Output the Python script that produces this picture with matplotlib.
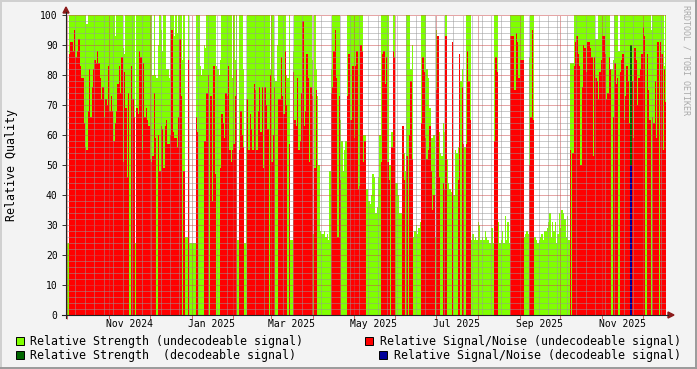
import datetime as dt
import numpy as np
import matplotlib
matplotlib.use("Agg")
import matplotlib.pyplot as plt
import matplotlib.dates as mdates
from matplotlib.lines import Line2D
from matplotlib.patches import Rectangle, Polygon

W, H = 697, 369

# one value per day, starting at first_day
first_day = dt.date(2024, 9, 30)
n_days_shown = 444.4

strength_undec = [
    # 2024-09-30 ..
    82, 24, 100, 100, 100, 100, 100, 100, 100, 100, 100, 100, 100, 100, 100, 97, 100, 100, 100, 100,
    100, 100, 100, 100, 100, 100, 100, 100, 100, 100, 100, 100, 100, 100, 100, 100, 93, 100, 100, 100,
    100, 100, 89, 87, 100, 100, 100, 100, 100, 100, 100, 24, 100, 100, 100, 100, 100, 100, 100, 100,
    100, 100, 100, 100, 80, 100, 80, 79, 90, 100, 95, 88, 100, 100,
    # 2024-12-13 ..
    82, 82, 79, 100, 100, 100, 93, 100, 94, 100, 100, 100, 85, 100, 26, 26, 100, 24, 24, 24,
    24, 24, 100, 100, 100, 83, 80, 82, 90, 89, 100, 100, 100, 100, 100, 100, 100, 83, 82, 80,
    85, 100, 100, 100, 100, 100, 100, 100, 100, 79, 100, 85, 100, 25, 100, 100, 100, 82, 24, 72,
    100, 100, 100, 100, 100, 100, 100, 100, 100, 100, 100, 100, 100,
    # 2025-02-24 ..
    100, 100, 100, 100, 82, 100, 100, 79, 78, 90, 100, 100, 100, 100, 100, 100, 80, 79, 100, 25,
    25, 88, 100, 100, 100, 100, 100, 100, 100, 100, 100, 100, 100, 100, 100, 85, 27, 100, 82, 73,
    50, 28, 27, 27, 28, 26, 27, 25, 48, 82, 100, 100, 100, 100, 100, 100, 65, 58, 48, 55,
    58, 100, 100, 100, 100, 100, 100, 100, 100, 100, 100, 100, 100, 60, 60,
    # 2025-05-10 ..
    42, 42, 38, 37, 40, 47, 46, 34, 36, 46, 60, 100, 100, 100, 100, 100, 100, 50, 50, 61,
    100, 100, 44, 44, 40, 34, 34, 40, 54, 48, 100, 100, 100, 82, 90, 26, 28, 30, 27, 29,
    31, 100, 100, 100, 100, 82, 79, 69, 59, 59, 60, 26, 95, 40, 61, 54, 53, 64, 61, 100,
    52, 44, 42, 41, 40, 40, 55, 54, 56, 84, 78, 82, 57, 56,
    # 2025-07-23 ..
    100, 100, 100, 100, 25, 27, 25, 26, 25, 31, 30, 25, 26, 25, 28, 26, 25, 24, 24, 29,
    24, 100, 100, 100, 31, 24, 25, 28, 24, 33, 25, 31, 24, 100, 100, 100, 100, 100, 100, 100,
    100, 100, 100, 26, 27, 28, 27, 86, 100, 100, 100, 26, 25, 24, 25, 26, 27, 25, 28, 28,
    29, 31, 34, 26, 31, 28, 31, 24, 27, 34, 29, 35, 34, 32, 26, 33, 25, 84, 84, 84,
    # 2025-10-11 ..
    100, 100, 100, 100, 100, 100, 100, 100, 100, 100, 100, 100, 100, 100, 100, 100, 92, 92, 100, 100,
    100, 100, 100, 100, 100, 100, 100, 81, 82, 85, 100, 100, 100, 88, 100, 100, 100, 100, 100, 100,
    100, 100, 100, 100, 100, 100, 100, 100, 100, 100, 100, 100, 100, 100, 100, 100, 100, 95, 100, 100,
    100, 100, 100, 100, 100, 100, 100, 83, 100,
]

snr_undec = [
    0, 0, 87, 91, 91, 88, 95, 86, 88, 92, 83, 79, 79, 64, 56, 55, 68, 82, 66, 76,
    82, 85, 84, 88, 84, 79, 72, 76, 66, 72, 70, 83, 68, 73, 68, 58, 64, 68, 77, 83,
    74, 86, 51, 81, 69, 46, 74, 0, 83, 72, 66, 0, 69, 67, 88, 86, 55, 84, 66, 69,
    65, 63, 52, 51, 53, 74, 59, 0, 60, 48, 63, 62, 49, 63,
    65, 57, 57, 60, 95, 61, 59, 59, 56, 66, 92, 73, 0, 48, 0, 0, 85, 0, 0, 0,
    0, 0, 66, 61, 0, 0, 0, 0, 58, 58, 74, 80, 0, 73, 38, 83, 47, 0, 0, 0,
    49, 67, 64, 59, 74, 73, 83, 55, 51, 55, 57, 73, 82, 0, 55, 68, 60, 56, 0, 0,
    72, 55, 67, 62, 55, 77, 75, 55, 68, 76, 61, 76, 49,
    76, 70, 62, 0, 80, 51, 60, 76, 0, 0, 72, 72, 86, 73, 67, 88, 70, 0, 57, 0,
    0, 81, 65, 63, 79, 55, 58, 74, 98, 63, 68, 87, 79, 51, 76, 73, 0, 49, 75, 0,
    0, 0, 0, 0, 0, 0, 0, 0, 0, 74, 76, 88, 95, 79, 26, 73, 45, 0, 0, 0,
    0, 73, 87, 65, 65, 83, 59, 83, 88, 42, 43, 90, 88, 51, 58,
    0, 0, 0, 0, 0, 0, 0, 0, 0, 0, 0, 51, 87, 88, 77, 86, 51, 45, 0, 56,
    88, 86, 0, 0, 0, 0, 0, 63, 45, 0, 53, 0, 60, 78, 52, 0, 0, 0, 0, 0,
    0, 64, 86, 81, 59, 52, 55, 63, 48, 35, 40, 0, 75, 93, 46, 0, 0, 44, 42, 93,
    0, 0, 0, 0, 91, 0, 0, 0, 45, 87, 0, 76, 57, 0,
    57, 88, 78, 65, 0, 0, 0, 0, 0, 0, 0, 0, 0, 0, 0, 0, 0, 0, 0, 0,
    0, 58, 86, 81, 0, 0, 0, 0, 0, 0, 0, 0, 0, 93, 93, 93, 75, 94, 91, 79,
    85, 85, 85, 0, 0, 0, 0, 50, 66, 95, 65, 0, 0, 0, 0, 0, 0, 0, 0, 0,
    0, 0, 0, 0, 0, 0, 0, 0, 0, 0, 0, 0, 0, 0, 0, 0, 0, 55, 0, 54,
    83, 91, 93, 87, 83, 50, 76, 90, 89, 81, 91, 91, 89, 86, 53, 86, 79, 78, 72, 81,
    85, 93, 93, 87, 72, 74, 86, 82, 0, 66, 84, 77, 79, 0, 81, 85, 87, 65, 73, 83,
    78, 64, 0, 78, 59, 89, 85, 70, 79, 82, 87, 96, 93, 0, 87, 75, 65, 0, 66, 64,
    78, 59, 91, 0, 91, 87, 55, 82, 71,
]

dec_days = ["2025-11-22"]
strength_dec = [90]
snr_dec = [50]

label_days = ["2024-11-16", "2025-01-16", "2025-03-16", "2025-05-16",
              "2025-07-16", "2025-09-16", "2025-11-16"]
label_texts = ["Nov 2024", "Jan 2025", "Mar 2025", "May 2025",
               "Jul 2025", "Sep 2025", "Nov 2025"]

legend_items = [
    ("Relative Strength (undecodeable signal)", "#80FF00", 15.5, 341),
    ("Relative Signal/Noise (undecodeable signal)", "#FF0000", 365, 341),
    ("Relative Strength  (decodeable signal)", "#006600", 15.5, 355),
    ("Relative Signal/Noise (decodeable signal)", "#000099", 379, 355),
]

MONO = "DejaVu Sans Mono"


def fx(x):
    return x / W


def fy(y):
    return 1 - y / H


fig = plt.figure(figsize=(W / 100, H / 100), dpi=100, facecolor="#F3F3F3")
ax = fig.add_axes([fx(66), fy(315), 600 / W, 300 / H])
ax.set_facecolor("white")

t0 = mdates.date2num(first_day)
edges = t0 + np.arange(len(strength_undec) + 1)

ax.stairs(strength_undec, edges, fill=True, color="#80FF00", lw=0, antialiased=False, zorder=1)
for d, v in zip(dec_days, strength_dec):
    t = mdates.date2num(dt.date.fromisoformat(d))
    ax.stairs([v], [t, t + 1], fill=True, color="#006600", lw=0, antialiased=False, zorder=1.1)
ax.stairs(snr_undec, edges, fill=True, color="#FF0000", lw=0, antialiased=False, zorder=1.2)
for d, v in zip(dec_days, snr_dec):
    t = mdates.date2num(dt.date.fromisoformat(d))
    ax.stairs([v], [t, t + 1], fill=True, color="#000099", lw=0, antialiased=False, zorder=1.3)

ax.set_xlim(t0, t0 + n_days_shown)
ax.set_ylim(0, 100)

# grid (drawn over the data like rrdtool does)
ax.xaxis.set_major_locator(mdates.MonthLocator())
ax.xaxis.set_minor_locator(mdates.WeekdayLocator(byweekday=mdates.MO))
ax.set_yticks(np.arange(0, 101, 10))
ax.set_yticks(np.arange(0, 101, 2), minor=True)
ax.set_axisbelow(False)
ax.grid(True, which="minor", color=(0.6, 0.6, 0.6, 0.35), lw=0.72, ls=(0, (1, 1)))
ax.grid(True, which="major", color=(0.8, 0.3, 0.3, 0.45), lw=0.72, ls=(0, (1, 1)))

ax.set_xticklabels([])
ax.set_yticklabels([str(v) for v in range(0, 101, 10)], fontfamily=MONO, fontsize=7)
ax.tick_params(axis="y", which="major", length=3, width=0.7, pad=3, color="#333333")
ax.tick_params(axis="x", which="major", length=3, width=0.7, color="#CC6666")
ax.tick_params(which="minor", length=0)
for s in ax.spines.values():
    s.set_visible(False)

for d, txt in zip(label_days, label_texts):
    t = mdates.date2num(dt.date.fromisoformat(d))
    ax.text(t, -9 / 300, txt, transform=ax.get_xaxis_transform(), ha="center", va="center",
            fontfamily=MONO, fontsize=7)

# axes with arrows
axis_col = "#222222"
arrow_col = "#8B1A1A"
fig.add_artist(Line2D([fx(66), fx(66)], [fy(318), fy(12)], color=axis_col, lw=0.8))
fig.add_artist(Line2D([fx(62), fx(668)], [fy(315), fy(315)], color=axis_col, lw=0.8))
fig.add_artist(Polygon([[fx(63), fy(13)], [fx(69), fy(13)], [fx(66), fy(7)]], closed=True,
                       color=arrow_col, transform=fig.transFigure))
fig.add_artist(Polygon([[fx(668), fy(312)], [fx(668), fy(318)], [fx(674), fy(315)]], closed=True,
                       color=arrow_col, transform=fig.transFigure))

fig.text(fx(12), fy(165), "Relative Quality", rotation=90, ha="center", va="center",
         fontfamily=MONO, fontsize=8.4)
fig.text(fx(686), fy(5), "RRDTOOL / TOBI OETIKER", rotation=270, ha="center", va="top",
         fontfamily=MONO, fontsize=6, color="#AAAAAA")

for txt, col, x0, yc in legend_items:
    fig.add_artist(Rectangle((fx(x0), fy(yc + 4)), 8 / W, 8 / H, transform=fig.transFigure,
                             facecolor=col, edgecolor="black", lw=0.7))
    fig.text(fx(x0 + 14.5), fy(yc), txt, ha="left", va="center", fontfamily=MONO, fontsize=8.4)

# rrdtool style frame
fig.add_artist(Line2D([0, 1], [fy(0.5), fy(0.5)], color="#D0D0D0", lw=1.4))
fig.add_artist(Line2D([fx(0.5), fx(0.5)], [0, 1], color="#D0D0D0", lw=1.4))
fig.add_artist(Line2D([0, 1], [fy(368), fy(368)], color="#9A9A9A", lw=1.4))
fig.add_artist(Line2D([fx(696), fx(696)], [0, 1], color="#9A9A9A", lw=1.4))

fig.savefig("out.png", dpi=100, facecolor=fig.get_facecolor())
